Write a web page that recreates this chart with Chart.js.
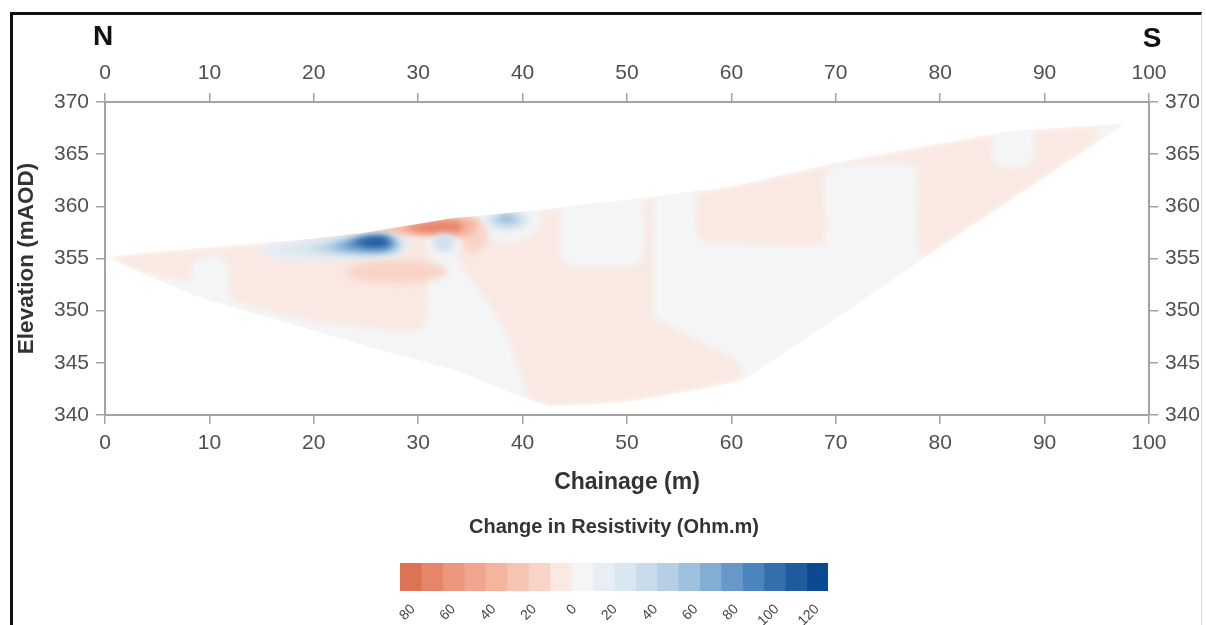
<!DOCTYPE html>
<html>
<head>
<meta charset="utf-8">
<script src="https://cdn.jsdelivr.net/npm/chart.js@4.4.1/dist/chart.umd.min.js"></script>
<style>
html, body { margin: 0; padding: 0; background: #fff; }
body { width: 1206px; height: 625px; position: relative; overflow: hidden; }
#frame { position: absolute; left: 10px; top: 12px; width: 1192px; height: 613px; box-sizing: border-box;
  border-top: 3px solid #111; border-left: 3px solid #111; border-right: 1px solid #d8d8d8; }
#main { position: absolute; left: 0; top: 0; }
#bar { position: absolute; left: 305px; top: 508px; }
</style>
</head>
<body>
<div id="frame"></div>
<canvas id="main" width="1206" height="500"></canvas>
<canvas id="bar" width="620" height="117"></canvas>
<script>
var FONT = '"Liberation Sans", Arial, sans-serif';

// colour scale (Ohm.m), one colour per 10 Ohm.m band
var cbEdges = [-80, -70, -60, -50, -40, -30, -20, -10, 0, 10, 20, 30, 40, 50, 60, 70, 80, 90, 100, 110, 120];
var cbColors = ['#dc7453', '#e5866a', '#eb977d', '#f0a68e', '#f4b59f', '#f6c4b2', '#f8d4c6', '#f9e9e2',
                '#f4f5f6', '#e8eef4', '#dae6f0', '#cadcec', '#b5cfe6', '#9dc0de', '#82aed4', '#6699c8',
                '#4c85bb', '#3470ad', '#1f5c9e', '#0b4a90'];
var cbTicks = [-80, -60, -40, -20, 0, 20, 40, 60, 80, 100, 120];

// section outline [chainage m, elevation mAOD]
var profile = [[0, 355.1], [3, 355.5], [10, 356.1], [20, 356.9], [25, 357.5], [30, 358.3], [33, 358.8], [40, 359.5],
  [50, 360.6], [60, 361.9], [66, 363.3], [70, 364.2], [78, 365.7], [86, 367.1], [92, 367.6], [97.7, 367.9],
  [88, 361.4], [79, 355.4], [70, 349.3], [61, 343.3], [58, 342.6], [50, 341.2], [42.5, 340.8], [38, 342.5],
  [34, 344.2], [28, 345.8], [19, 348.4], [9, 351.3], [0, 355.1]];

// near-zero zones
var zoneWest = [[-2, 354.2], [4, 353.4], [8.2, 352.9], [8.3, 354.5], [9.6, 355.2], [11.2, 355.1], [11.9, 354], [12, 351.2],
  [18.7, 349.3], [25, 348.4], [30.4, 348.3], [30.8, 352], [31.1, 355.1], [33.9, 355.1], [34.3, 354], [35.9, 352],
  [38.3, 348.1], [40.7, 341.4], [41, 338], [-2, 338]];
var zoneMid = [[43.6, 362], [43.6, 355.3], [44.3, 354.4], [47.5, 354.1], [50.8, 354.3], [51.6, 355.2], [51.6, 362]];
var zoneEast = [[52.5, 363], [56.6, 363], [56.6, 357.6], [57.4, 356.6], [68.8, 356.4], [68.9, 363.2], [69.8, 363.9],
  [76.5, 364.2], [77.8, 363.6], [77.9, 356], [80, 352], [80, 338], [61, 338], [61, 343.5], [60.8, 345], [52.5, 349.4]];
var zonePatch = [[85, 369], [85, 364.6], [85.8, 363.8], [88.2, 363.8], [89, 364.6], [89, 369]];
var zoneTip = [[95, 370], [95, 365.5], [100, 365.5], [100, 370]];

// anomalies
var lowWest = [[23, 353.8], [25, 354.6], [28, 354.8], [31.5, 354.5], [32.8, 353.7], [31, 352.9], [27, 352.7], [24, 353], [23, 353.8]];
var highA0 = [[14.5, 355.6], [16, 356.4], [19, 356.9], [23, 357.3], [26.5, 357.6], [28.5, 357.3], [29.2, 356.5], [28.6, 355.6], [26, 355.1], [21, 354.9], [17, 354.9], [14.5, 355.6]];
var highA1 = [[16, 355.7], [18.5, 356.4], [22, 356.9], [26, 357.3], [28.1, 357.05], [28.7, 356.4], [28.1, 355.55], [25, 355.25], [20, 355.25], [16, 355.7]];
var highA2 = [[19.5, 355.9], [22.5, 356.75], [26, 357.2], [27.8, 357], [28.3, 356.3], [27.6, 355.6], [24, 355.45], [19.5, 355.9]];
var highA3 = [[21.5, 356.1], [24, 356.9], [26.5, 357.15], [27.7, 356.8], [27.8, 356.1], [26.5, 355.7], [23.5, 355.7], [21.5, 356.1]];
var highA4 = [[22.8, 356.3], [24.8, 357], [26.6, 357.05], [27.4, 356.65], [27.3, 356.1], [25.5, 355.9], [22.8, 356.3]];
var highA5 = [[23.8, 356.55], [25.5, 357], [26.9, 356.9], [27.1, 356.45], [25.8, 356.15], [23.8, 356.55]];
var lowB1 = [[19, 357.4], [24, 357.9], [28, 358.6], [31, 359.3], [34.5, 359.4], [36.3, 358.4], [36.6, 357], [35.8, 355.8],
  [34.6, 355.8], [34, 357], [32, 357.3], [28, 357.4], [24, 357.35], [19, 356.85], [19, 357.4]];
var lowB2 = [[25.5, 357.7], [29, 358.3], [32, 358.9], [35, 358.8], [35.6, 358], [34.6, 357.25], [32, 357.3], [29, 357.4], [25.5, 357.7]];
var lowB3 = [[28.5, 358], [31.5, 358.55], [33.8, 358.5], [34.3, 357.8], [32.5, 357.4], [30, 357.55], [28.5, 358]];
var highC0 = [[30.6, 356.4], [31.2, 357.4], [32.4, 357.7], [33.6, 357.4], [34.2, 356.4], [33.6, 355.3], [32.4, 355], [31.2, 355.3], [30.6, 356.4]];
var highC1 = [[31.2, 356.5], [31.7, 357.2], [32.5, 357.35], [33.3, 357.1], [33.6, 356.4], [33.2, 355.8], [32.4, 355.6], [31.6, 355.9], [31.2, 356.5]];
var highC2 = [[31.8, 356.6], [32.4, 357.05], [33, 356.8], [33, 356.2], [32.4, 356], [31.8, 356.2], [31.8, 356.6]];
var highD0 = [[34.8, 358.6], [36, 359.6], [38.5, 359.9], [41, 359.7], [41.8, 358.8], [41, 357.3], [38.5, 356.6], [36, 357.3], [34.8, 358.6]];
var highD1 = [[36.2, 358.6], [37, 359.3], [38.6, 359.5], [40.2, 359.3], [40.7, 358.6], [39.8, 357.9], [38.3, 357.7], [36.9, 358], [36.2, 358.6]];
var highD2 = [[37, 358.7], [38, 359.15], [39.3, 359.15], [39.9, 358.7], [39.1, 358.25], [37.8, 358.3], [37, 358.7]];
var highD3 = [[37.6, 358.8], [38.3, 359.05], [39, 358.95], [38.9, 358.7], [38.1, 358.65], [37.6, 358.8]];

// [outline, change in resistivity, tension], drawn bottom to top
var layers = [
  [profile, -5, 0], [zoneWest, 3, 0.2], [zoneMid, 3, 0.2], [zoneEast, 3, 0.1], [zonePatch, 3, 0.2], [zoneTip, 3, 0],
  [lowWest, -12, 0.4], [highA0, 12, 0.4], [highC0, 5, 0.4], [highD0, 8, 0.4],
  [lowB1, -15, 0.4], [lowB2, -40, 0.4], [lowB3, -62, 0.4],
  [highA1, 22, 0.4], [highA2, 42, 0.4], [highA3, 62, 0.4], [highA4, 82, 0.4], [highA5, 102, 0.4],
  [highC1, 25, 0.4], [highC2, 35, 0.4],
  [highD1, 25, 0.4], [highD2, 45, 0.4], [highD3, 65, 0.4]
];

function colourFor(v) {
  var i = 0;
  while (i < cbColors.length - 1 && v >= cbEdges[i + 1]) i++;
  return cbColors[i];
}

var datasets = layers.map(function (l, i) {
  return {
    data: l[0].map(function (p) { return { x: p[0], y: p[1] }; }),
    backgroundColor: colourFor(l[1]),
    borderColor: 'rgba(0,0,0,0)',
    borderWidth: 0,
    fill: 'shape',
    tension: l[2],
    pointRadius: 0,
    pointHoverRadius: 0,
    order: layers.length - i
  };
});

// keep the colour inside the section outline and soften contour edges
var profileClip = {
  id: 'profileClip',
  beforeDatasetsDraw: function (chart) {
    var ctx = chart.ctx, xs = chart.scales.x, ys = chart.scales.y;
    ctx.save();
    ctx.beginPath();
    profile.forEach(function (p, i) {
      var px = xs.getPixelForValue(p[0]), py = ys.getPixelForValue(p[1]);
      if (i) ctx.lineTo(px, py); else ctx.moveTo(px, py);
    });
    ctx.closePath();
    ctx.clip();
    ctx.filter = 'blur(3px)';
  },
  afterDatasetsDraw: function (chart) {
    chart.ctx.restore();
  }
};

var compass = {
  id: 'compass',
  afterDraw: function (chart) {
    var ctx = chart.ctx, xs = chart.scales.x2;
    ctx.save();
    ctx.font = 'bold 28px ' + FONT;
    ctx.fillStyle = '#111';
    ctx.textAlign = 'center';
    ctx.textBaseline = 'middle';
    ctx.fillText('N', xs.getPixelForValue(0) - 2, 37);
    ctx.fillText('S', xs.getPixelForValue(100) + 3, 39);
    ctx.restore();
  }
};

function axis(pos, min, max, step, fit) {
  return {
    type: 'linear', position: pos, min: min, max: max,
    ticks: { stepSize: step, color: '#505050', font: { family: FONT, size: 21 }, padding: 7 },
    grid: { drawOnChartArea: false, tickLength: 9, color: '#a3a3a3', lineWidth: 1.5 },
    border: { color: '#a3a3a3', width: 2 },
    afterFit: fit
  };
}

var xAxis = axis('bottom', 0, 100, 10, function (s) { s.height = 85; });
xAxis.title = { display: true, text: 'Chainage (m)', color: '#333', font: { family: FONT, size: 23, weight: 'bold' }, padding: { top: 0, bottom: 4 } };
var yAxis = axis('left', 340, 370, 5, function (s) { s.width = 105; });
yAxis.title = { display: true, text: 'Elevation (mAOD)', color: '#333', font: { family: FONT, size: 22.5, weight: 'bold' }, padding: { top: 13, bottom: 0 } };

new Chart(document.getElementById('main'), {
  type: 'line',
  data: { datasets: datasets },
  options: {
    responsive: false,
    animation: false,
    events: [],
    devicePixelRatio: 1,
    layout: { padding: 0 },
    plugins: { legend: { display: false }, tooltip: { enabled: false } },
    scales: {
      x: xAxis,
      x2: axis('top', 0, 100, 10, function (s) { s.height = 102; }),
      y: yAxis,
      y2: axis('right', 340, 370, 5, function (s) { s.width = 57; })
    }
  },
  plugins: [profileClip, compass]
});

// colour bar
new Chart(document.getElementById('bar'), {
  type: 'bar',
  data: {
    labels: [''],
    datasets: cbColors.map(function (c, i) {
      return { data: [[cbEdges[i], cbEdges[i + 1]]], backgroundColor: c, borderWidth: 0, grouped: false,
               barPercentage: 1, categoryPercentage: 1 };
    })
  },
  options: {
    indexAxis: 'y',
    responsive: false,
    animation: false,
    events: [],
    devicePixelRatio: 1,
    layout: { padding: { left: 95, right: 97, top: 0, bottom: 0 } },
    plugins: {
      legend: { display: false },
      tooltip: { enabled: false },
      title: { display: true, text: 'Change in Resistivity (Ohm.m)', color: '#333',
               font: { family: FONT, size: 20, weight: 'bold' }, padding: { top: 7, bottom: 24 } }
    },
    scales: {
      x: { type: 'linear', min: -80, max: 120, display: false },
      xt: {
        type: 'linear', position: 'bottom', min: -86.4, max: 125.4,
        afterBuildTicks: function (s) { s.ticks = cbTicks.map(function (v) { return { value: v }; }); },
        ticks: { autoSkip: false, minRotation: 45, maxRotation: 45, color: '#444', font: { family: FONT, size: 14 }, padding: 2,
                 callback: function (v) { return Math.abs(v); } },
        grid: { display: false },
        border: { display: false },
        afterFit: function (s) { s.height = 34; }
      },
      y: { display: false }
    }
  }
});
</script>
</body>
</html>
